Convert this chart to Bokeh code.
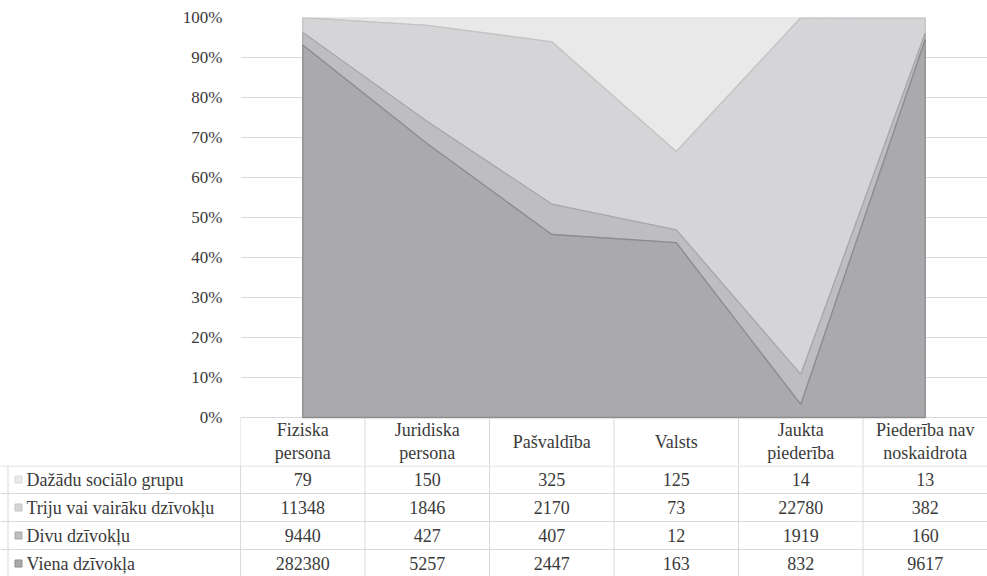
import numpy as np
from bokeh.plotting import figure
from bokeh.models import Range1d, FixedTicker, NumeralTickFormatter
from bokeh.core.properties import value
from bokeh.embed import file_html
from bokeh.resources import INLINE

# ---------------- data ----------------
categories = ["Fiziska\npersona", "Juridiska\npersona", "Pašvaldība", "Valsts",
              "Jaukta\npiederība", "Piederība nav\nnoskaidrota"]
series_names = ["Dažādu sociālo grupu", "Triju vai vairāku dzīvokļu",
                "Divu dzīvokļu", "Viena dzīvokļa"]
dazadu = [79, 150, 325, 125, 14, 13]
triju = [11348, 1846, 2170, 73, 22780, 382]
divu = [9440, 427, 407, 12, 1919, 160]
viena = [282380, 5257, 2447, 163, 832, 9617]
y_ticks = [0.0, 0.1, 0.2, 0.3, 0.4, 0.5, 0.6, 0.7, 0.8, 0.9, 1.0]

# ---------------- styles ----------------
FONT_NAME = "Liberation Serif"
FONT = value(FONT_NAME)
FS_AX = "17px"
FS = "18px"
TXT = "#3a3a3a"
GRID = "#d9d9d9"
fills = {"viena": "#aaaaad", "divu": "#bebec1", "triju": "#d5d5d7", "dazadu": "#e9e9ea"}
lines = {"viena": "#8c8c8f", "divu": "#a8a8ab", "triju": "#c3c3c5", "dazadu": "#dadadc"}

W = 987
LEFT = 240            # frame left at page x 240
TOP = 17              # 100% at page y 17
PX_PER_UNIT = 400.0   # vertical px for 0..100%
HEADER = 48           # header row height (px)
ROW = 28              # table row height (px)
H1 = TOP + int(PX_PER_UNIT) + HEADER
H2 = 576 - H1
y0 = -HEADER / PX_PER_UNIT
PX = (W - LEFT) / 6.0
XMIN = -0.5 - LEFT / PX

# ---------------- chart ----------------
p1 = figure(width=W, height=H1, x_range=Range1d(-0.5, 5.5), y_range=Range1d(y0, 1.0),
            output_backend="svg", toolbar_location=None, x_axis_location=None,
            min_border_left=LEFT, min_border_right=0, min_border_top=TOP,
            min_border_bottom=0)
p1.outline_line_color = None
p1.xgrid.visible = False
p1.yaxis.ticker = FixedTicker(ticks=y_ticks)
p1.ygrid.ticker = FixedTicker(ticks=y_ticks)
p1.ygrid.grid_line_color = GRID
p1.yaxis.formatter = NumeralTickFormatter(format="0%")
p1.yaxis.axis_line_color = None
p1.yaxis.major_tick_line_color = None
p1.yaxis.minor_tick_line_color = None
p1.yaxis.major_tick_out = 0
p1.yaxis.major_tick_in = 0
p1.yaxis.major_label_standoff = 18
p1.yaxis.major_label_text_font = FONT_NAME
p1.yaxis.major_label_text_font_size = FS_AX
p1.yaxis.major_label_text_color = TXT

x = np.arange(len(categories), dtype=float)
vals = {"viena": np.array(viena, float), "divu": np.array(divu, float),
        "triju": np.array(triju, float), "dazadu": np.array(dazadu, float)}
total = sum(vals.values())
order = ["viena", "divu", "triju", "dazadu"]
bottoms, tops = {}, {}
acc = np.zeros(len(x))
for k in order:
    bottoms[k] = acc.copy()
    acc = acc + vals[k] / total
    tops[k] = acc.copy()

# header top line and column separators
p1.segment(x0=[-0.5], y0=[0], x1=[5.5], y1=[0], line_color=GRID, line_width=1)
bounds = [-0.5, 0.5, 1.5, 2.5, 3.5, 4.5]
p1.segment(x0=bounds, y0=[y0] * len(bounds), x1=bounds, y1=[0] * len(bounds),
           line_color=GRID, line_width=1)

for k in reversed(order):
    xs = list(x) + list(x[::-1])
    ys = list(tops[k]) + list(bottoms[k][::-1])
    p1.patch(xs, ys, fill_color=fills[k], line_color=lines[k], line_width=1.3)

p1.text(x=x, y=[y0 / 2] * len(x), text=categories, text_align="center",
        text_baseline="middle", text_font=FONT, text_font_size=FS,
        text_color=TXT, text_line_height=1.12)

# ---------------- table ----------------
rows_vis = H2 / ROW
p2 = figure(width=W, height=H2, x_range=Range1d(XMIN, 5.5), y_range=Range1d(4 - rows_vis, 4),
            output_backend="svg", toolbar_location=None, x_axis_location=None,
            y_axis_location=None, min_border_left=0, min_border_right=0,
            min_border_top=0, min_border_bottom=0)
p2.outline_line_color = None
p2.xgrid.visible = False
p2.ygrid.visible = False

dy = 0.5 / ROW
hy = [4 - dy, 3, 2, 1]
p2.segment(x0=[XMIN] * 4, y0=hy, x1=[5.5] * 4, y1=hy, line_color=GRID, line_width=1)
vb = [XMIN + 7.5 / PX] + bounds
p2.segment(x0=vb, y0=[0] * len(vb), x1=vb, y1=[4] * len(vb), line_color=GRID, line_width=1)

row_y = [3.5, 2.5, 1.5, 0.5]
row_keys = ["dazadu", "triju", "divu", "viena"]
p2.rect(x=[XMIN + 18 / PX] * 4, y=row_y, width=7, height=7,
        width_units="screen", height_units="screen",
        fill_color=[fills[k] for k in row_keys], line_color=[lines[k] for k in row_keys])
p2.text(x=[XMIN + 26 / PX] * 4, y=row_y, text=series_names, text_align="left",
        text_baseline="middle", text_font=FONT, text_font_size=FS, text_color=TXT)

for k, yy in zip(row_keys, row_y):
    p2.text(x=x, y=[yy] * len(x), text=[str(int(v)) for v in vals[k]],
            text_align="center", text_baseline="middle", text_font=FONT,
            text_font_size=FS, text_color=TXT)

open("out.html", "w").write(file_html([p1, p2], INLINE))
